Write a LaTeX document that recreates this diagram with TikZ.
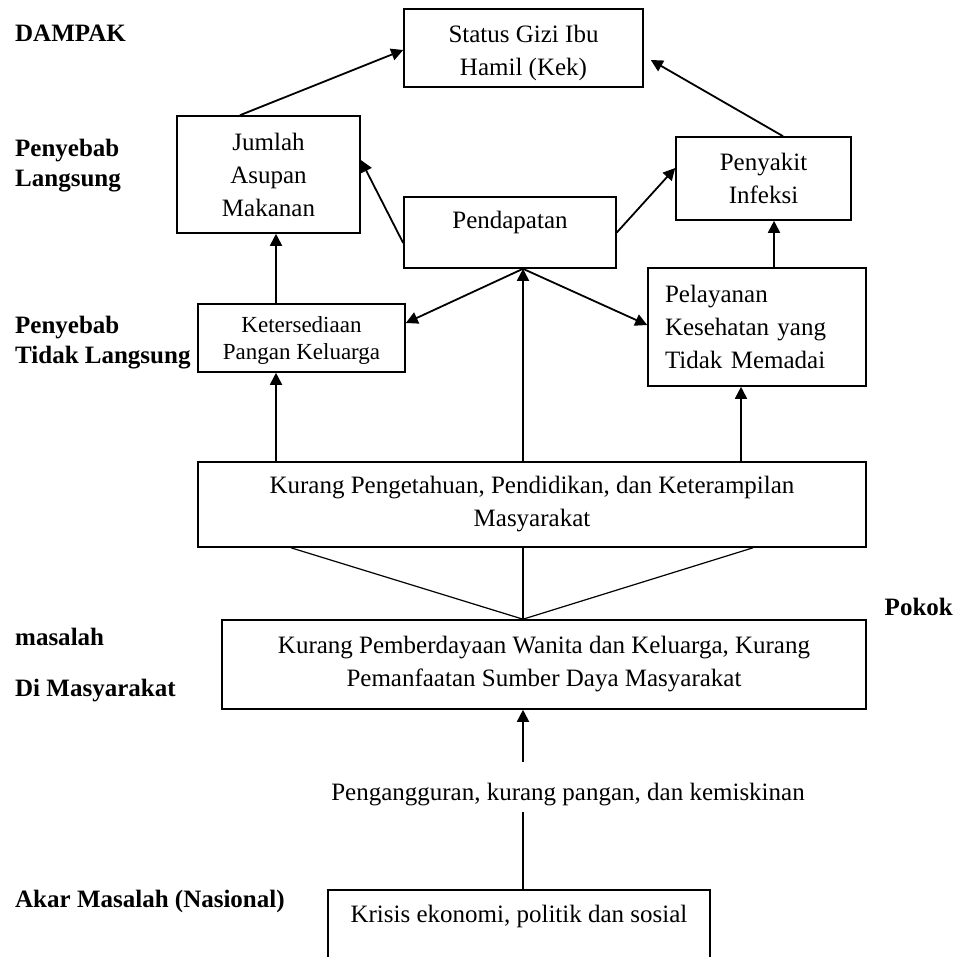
\documentclass[tikz,border=0pt]{standalone}
\usepackage{fontspec}
\setmainfont{Liberation Serif}
\usetikzlibrary{arrows.meta}
\begin{document}
\begin{tikzpicture}[x=1pt,y=-1pt,
  box/.style={draw, line width=1.6pt, inner sep=0pt, align=center, font=\fontsize{25}{33}\selectfont},
  lbl/.style={anchor=base west, inner sep=0pt, font=\bfseries\fontsize{25}{30}\selectfont},
  arr/.style={line width=1.8pt, -{Triangle[length=12pt,width=12pt]}},
  ln/.style={line width=1.2pt}]
\clip (0,0) rectangle (960,957);
\fill[white] (0,0) rectangle (960,957);

% boxes
\node[box, minimum width=239pt, minimum height=78pt] (status) at (523.5,48) {\rule{0pt}{26.5pt}Status Gizi Ibu\\Hamil (Kek)};
\node[box, minimum width=183pt, minimum height=117pt] (jumlah) at (268.5,174.5) {Jumlah\\Asupan\\Makanan};
\node[box, minimum width=212pt, minimum height=71pt, text height=17pt, text depth=25.5pt] (pend) at (510,232.5) {Pendapatan};
\node[box, minimum width=175pt, minimum height=83pt] (peny) at (763.5,178.5) {Penyakit\\Infeksi};
\node[box, minimum width=207pt, minimum height=68pt, font=\fontsize{23}{27}\selectfont] (kets) at (301.5,338) {\rule{0pt}{21pt}Ketersediaan\\Pangan Keluarga};
\node[box, align=left, minimum width=218pt, minimum height=118pt, text width=184pt, inner xsep=17pt] (pel) at (757,327) {Pelayanan\\Kesehatan yang\\Tidak Memadai};
\node[box, minimum width=668pt, minimum height=85pt] (kp) at (532,504.5) {Kurang Pengetahuan, Pendidikan, dan Keterampilan\\Masyarakat};
\node[box, minimum width=644pt, minimum height=89pt] (kb) at (544,664.5) {Kurang Pemberdayaan Wanita dan Keluarga, Kurang\\Pemanfaatan Sumber Daya Masyarakat};
\node[anchor=base, inner sep=0pt, font=\fontsize{25}{33}\selectfont] (pengg) at (568,800) {Pengangguran, kurang pangan, dan kemiskinan};
\node[box, anchor=north, minimum width=382pt, inner ysep=16pt, text height=17pt, text depth=60pt] (krisis) at (519,889) {Krisis ekonomi, politik dan sosial};

% left labels
\node[lbl] (l1) at (15,42) {DAMPAK};
\node[lbl] (l2) at (15,157) {Penyebab};
\node[lbl] (l3) at (15,187) {Langsung};
\node[lbl] (l4) at (15,333) {Penyebab};
\node[lbl] (l5) at (15,363) {Tidak Langsung};
\node[lbl, anchor=base east] (l6) at (953,615) {Pokok};
\node[lbl] (l7) at (15,645) {masalah};
\node[lbl] (l8) at (15,696) {Di Masyarakat};
\node[lbl] (l9) at (15,907) {Akar Masalah (Nasional)};

% helper coordinates
\coordinate (x276) at (276,0);
\coordinate (x291) at (291,0);
\coordinate (x523) at (523,0);
\coordinate (x741) at (741,0);
\coordinate (x753) at (753,0);
\coordinate (x774) at (774,0);
\coordinate (c1) at (523,762);
\coordinate (c2) at (523,812);

% arrows
\draw[arr] ([xshift=-28.5pt]jumlah.north) -- ([yshift=-2pt]status.west);
\draw[arr] ([xshift=19.5pt]peny.north) -- ([xshift=7pt,yshift=-12pt]status.east);
\draw[arr] ([yshift=-10.5pt]pend.west) -- ([yshift=14.5pt]jumlah.east);
\draw[arr] (pend.east) -- ([yshift=10.5pt]peny.west);
\draw[arr] (x276 |- kets.north) -- (x276 |- jumlah.south);
\draw[arr] (x774 |- pel.north) -- (x774 |- peny.south);
\draw[arr] (x523 |- pend.south) -- ([yshift=15pt]kets.east);
\draw[arr] (x523 |- pend.south) -- ([yshift=2pt]pel.west);
\draw[arr] (x523 |- kp.north) -- (x523 |- pend.south);
\draw[arr] (x276 |- kp.north) -- (x276 |- kets.south);
\draw[arr] (x741 |- kp.north) -- (x741 |- pel.south);
\draw[ln] (x291 |- kp.south) -- (x523 |- kb.north) -- (x753 |- kp.south);
\draw[ln] (x523 |- kb.north) -- (x523 |- kp.south);
\draw[arr] (c1) -- (x523 |- kb.south);
\draw[ln, line width=1.5pt] (x523 |- krisis.north) -- (c2);
\end{tikzpicture}
\end{document}
